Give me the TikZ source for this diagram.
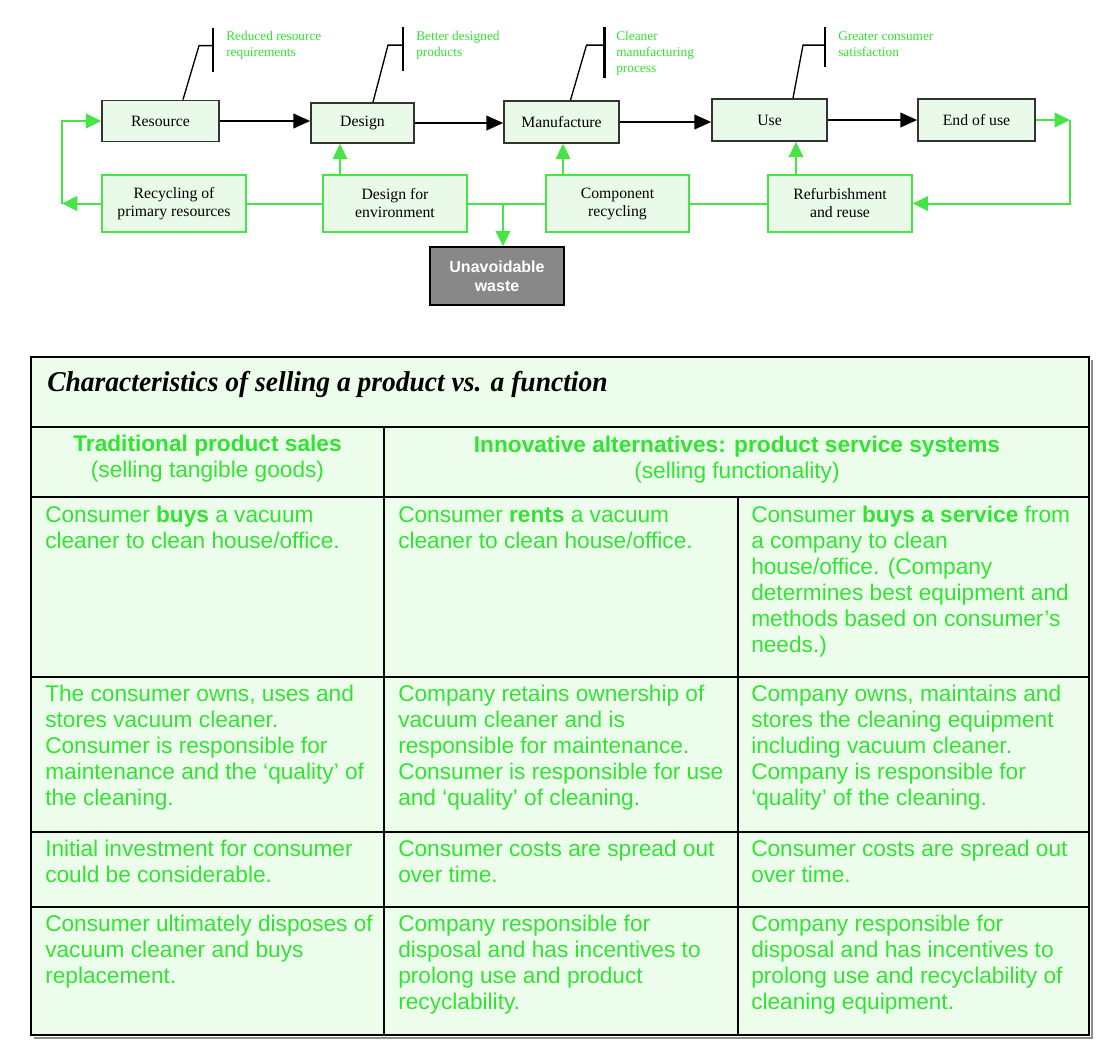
\documentclass[tikz,border=0pt]{standalone}
\usepackage{fontspec}
\usepackage{tikz}
\usetikzlibrary{arrows.meta}
\newfontfamily\serifbox{Liberation Serif}
\newfontfamily\sanstab{Liberation Sans}
\definecolor{boxfill}{RGB}{233,250,233}
\definecolor{cellfill}{RGB}{236,253,236}
\definecolor{loopgreen}{RGB}{70,228,70}
\definecolor{textgreen}{RGB}{50,228,50}
\definecolor{wastegray}{RGB}{136,136,136}
\tikzset{
  boxsize/.style 2 args={minimum width=#1*0.75pt, minimum height=#2*0.75pt},
  stage/.style={draw=black!80, line width=1.3pt, fill=boxfill, inner sep=0pt, align=center,
    font=\serifbox\fontsize{11.8}{13.5}\selectfont},
  loopbox/.style={stage, draw=loopgreen},
  flow/.style={line width=1.1pt, -{Triangle[length=12.5pt,width=11pt]}},
  gflow/.style={draw=loopgreen, line width=1.5pt, -{Triangle[length=11.5pt,width=11pt]}},
  gline/.style={draw=loopgreen, line width=1.5pt},
  callout/.style={line width=1pt},
  bar/.style={line width=2.2pt},
  note/.style={text=textgreen, anchor=north west, inner sep=0pt, align=left,
    font=\serifbox\fontsize{10}{12}\selectfont},
  cell/.style={text=textgreen, anchor=north west, inner sep=0pt, align=left,
    font=\sanstab\fontsize{17}{19.5}\selectfont},
  head/.style={text=textgreen, inner sep=0pt, align=center,
    font=\sanstab\fontsize{17}{19.5}\selectfont},
  grid/.style={line width=1.4pt}
}
\begin{document}
\begin{tikzpicture}[x=0.75pt,y=0.75pt,yscale=-1,xscale=1]
\path [use as bounding box, fill=white] (0,0) rectangle (1112,1047);

%Life cycle stages
\node [stage, boxsize={117}{41}] (res) at (160.5,121) {Resource};
\node [stage, boxsize={103}{40}] (des) at (362.5,123) {Design};
\node [stage, boxsize={115}{42}] (man) at (561.5,122) {Manufacture};
\node [stage, boxsize={115}{42}] (use) at (769.5,120) {Use};
\node [stage, boxsize={117}{42}] (end) at (976.5,120) {End of use};

%Recovery loops
\node [loopbox, boxsize={144}{57}] (rec) at (174,203.5) {Recycling of\\primary resources};
\node [loopbox, boxsize={144}{57}] (dfe) at (395,203.5) {Design for\\environment};
\node [loopbox, boxsize={143}{57}] (comp) at (617.5,203.5) {Component\\recycling};
\node [loopbox, boxsize={144}{57}] (ref) at (840,203.5) {Refurbishment\\and reuse};

%Waste
\node [draw=black, line width=1.3pt, fill=wastegray, text=white, align=center, inner sep=0pt,
  boxsize={134}{58}, font=\sanstab\bfseries\fontsize{12}{14.25}\selectfont] (waste) at (497,276) {Unavoidable\\waste};

%Straight Lines
\draw [flow] (res.east) -- (res.east -| des.west);
\draw [flow] (des.east) -- (des.east -| man.west);
\draw [flow] (man.east) -- (man.east -| use.west);
\draw [flow] (use.east) -- (use.east -| end.west);

\draw [gline] (rec) -- (dfe);
\draw [gline] (dfe) -- (comp);
\draw [gline] (comp) -- (ref);

\coordinate (lc) at (62,203.5);
\coordinate (rc) at (1070,120);
\draw [gflow] (rec.west) -- (lc);
\draw [gflow] (lc) |- (res.west);
\draw [gflow] (end.east) -- (rc);
\draw [gflow] (rc) |- (ref.east);

\coordinate (up1) at (340,175);
\coordinate (up2) at (563,175);
\coordinate (up3) at (796,175);
\draw [gflow] (up1) -- (up1 |- des.south);
\draw [gflow] (up2) -- (up2 |- man.south);
\draw [gflow] (up3) -- (up3 |- use.south);

\coordinate (drop) at (503,203.5);
\draw [gflow] (drop) -- (drop |- waste.north);

%Callouts
\draw [callout] ([xshift=22.5*0.75pt]res.north) -- ++(16,-54) -- ++(14,0) coordinate (b1);
\draw [bar] (b1) ++(0,-18) -- ++(0,44);
\draw [callout] ([xshift=10.5*0.75pt]des.north) -- ++(15,-57) -- ++(15,0) coordinate (b2);
\draw [bar] (b2) ++(0,-18) -- ++(0,44);
\draw [callout] ([xshift=9*0.75pt]man.north) -- ++(16,-55) -- ++(18,0) coordinate (b3);
\draw [bar] (b3) ++(0,-18) -- ++(0,51);
\draw [callout] ([xshift=23.5*0.75pt]use.north) -- ++(10,-53) -- ++(22,0) coordinate (b4);
\draw [bar] (b4) ++(0,-18) -- ++(0,40);

% Text Node
\node [note] (n1) at (226,31) {Reduced resource\\requirements};
\node [note] (n2) at (416,31) {Better designed\\products};
\node [note] (n3) at (616,31) {Cleaner\\manufacturing\\process};
\node [note] (n4) at (838,31) {Greater consumer\\satisfaction};

%Table
\draw [black!45, line width=1.2pt] (1092,360) -- (1092,1038) -- (34,1038);
\draw [fill=cellfill, line width=1.8pt] (31,357) rectangle (1089,1035);
\draw [grid] (31,427) -- (1089,427);
\draw [grid] (31,497) -- (1089,497);
\draw [grid] (31,677) -- (1089,677);
\draw [grid] (31,832) -- (1089,832);
\draw [grid] (31,907) -- (1089,907);
\draw [grid] (384,427) -- (384,1035);
\draw [grid] (738,497) -- (738,1035);

% Text Node
\node [anchor=west, inner sep=0pt, xscale=0.96, font=\serifbox\bfseries\itshape\fontsize{21.5}{24}\selectfont] (title) at (47,384)
  {Characteristics of selling a product vs. a function};
\node [head] (h1) at (207.5,459) {\textbf{Traditional product sales}\\(selling tangible goods)};
\node [head] (h2) at (737,460) {\textbf{Innovative alternatives: product service systems}\\(selling functionality)};

\node [cell] (c11) at (45,506) {Consumer \textbf{buys} a vacuum\\cleaner to clean house/office.};
\node [cell] (c12) at (398,506) {Consumer \textbf{rents} a vacuum\\cleaner to clean house/office.};
\node [cell] (c13) at (751,506) {Consumer \textbf{buys a service} from\\a company to clean\\house/office. (Company\\determines best equipment and\\methods based on consumer’s\\needs.)};

\node [cell] (c21) at (45,685) {The consumer owns, uses and\\stores vacuum cleaner.\\Consumer is responsible for\\maintenance and the ‘quality’ of\\the cleaning.};
\node [cell] (c22) at (398,685) {Company retains ownership of\\vacuum cleaner and is\\responsible for maintenance.\\Consumer is responsible for use\\and ‘quality’ of cleaning.};
\node [cell] (c23) at (751,685) {Company owns, maintains and\\stores the cleaning equipment\\including vacuum cleaner.\\Company is responsible for\\‘quality’ of the cleaning.};

\node [cell] (c31) at (45,840) {Initial investment for consumer\\could be considerable.};
\node [cell] (c32) at (398,840) {Consumer costs are spread out\\over time.};
\node [cell] (c33) at (751,840) {Consumer costs are spread out\\over time.};

\node [cell] (c41) at (45,915) {Consumer ultimately disposes of\\vacuum cleaner and buys\\replacement.};
\node [cell] (c42) at (398,915) {Company responsible for\\disposal and has incentives to\\prolong use and product\\recyclability.};
\node [cell] (c43) at (751,915) {Company responsible for\\disposal and has incentives to\\prolong use and recyclability of\\cleaning equipment.};

\end{tikzpicture}
\end{document}
